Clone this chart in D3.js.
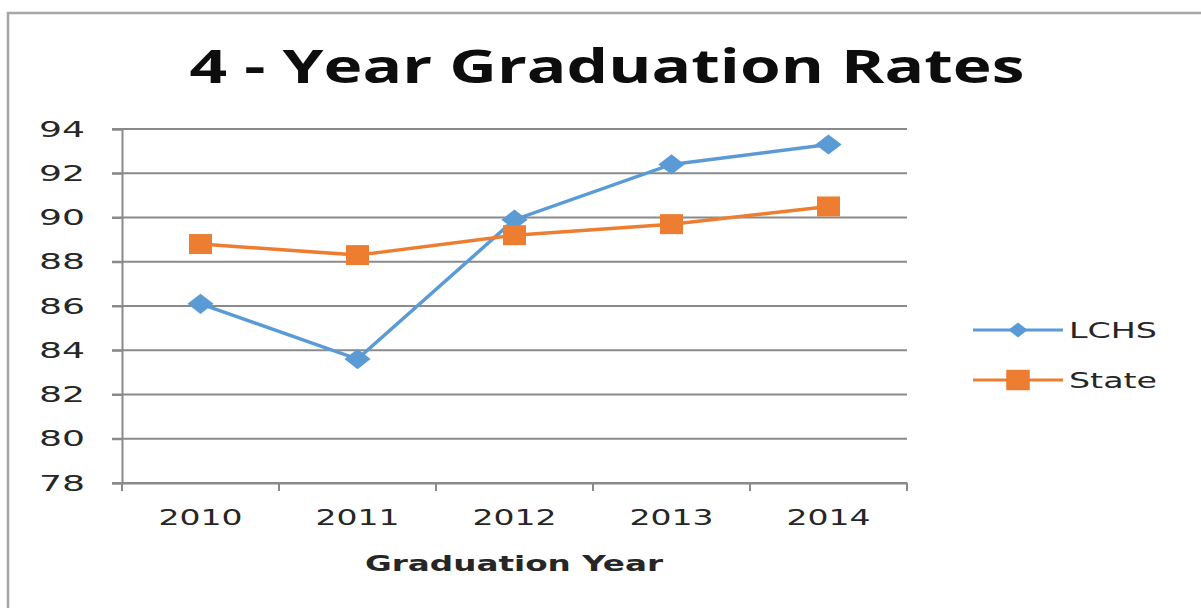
<!DOCTYPE html>
<html>
<head>
<meta charset="utf-8">
<script src="https://cdn.jsdelivr.net/npm/d3@7/dist/d3.min.js"></script>
<style>
body { margin: 0; background: #fff; }
svg { display: block; }
</style>
</head>
<body>
<div id="chart"></div>
<script>
var years = ["2010", "2011", "2012", "2013", "2014"];
var lchs = [86.1, 83.6, 89.9, 92.4, 93.3];
var state = [88.8, 88.3, 89.2, 89.7, 90.5];
var yTicks = [78, 80, 82, 84, 86, 88, 90, 92, 94];

var width = 1201, height = 608;
var plotLeft = 122, plotRight = 907, plotTop = 129, plotBottom = 483;

var svg = d3.select("#chart").append("svg").attr("width", width).attr("height", height);

// chart border
svg.append("rect")
    .attr("x", 8).attr("y", 13)
    .attr("width", 1220).attr("height", 640)
    .attr("fill", "#fff").attr("stroke", "#a6a6a6").attr("stroke-width", 2.5);

var x = d3.scaleBand().domain(years).range([plotLeft, plotRight]);
var y = d3.scaleLinear().domain([78, 94]).range([plotBottom, plotTop]);

// gridlines
svg.append("g").selectAll("line")
    .data(yTicks)
    .enter().append("line")
    .attr("x1", plotLeft - 10).attr("x2", plotRight)
    .attr("y1", function(d) { return y(d); })
    .attr("y2", function(d) { return y(d); })
    .attr("stroke", "#8a8a8a").attr("stroke-width", 2);

// y axis
var yAxis = svg.append("g")
    .attr("transform", "translate(" + plotLeft + ",0)")
    .call(d3.axisLeft(y).tickValues(yTicks).tickSize(10).tickPadding(27));
yAxis.select(".domain").attr("stroke", "#8a8a8a").attr("stroke-width", 2);
yAxis.selectAll(".tick line").attr("stroke", "#8a8a8a").attr("stroke-width", 2);
yAxis.selectAll("text")
    .attr("font-family", "DejaVu Sans").attr("font-size", 22).attr("fill", "#262626")
    .attr("textLength", 46).attr("lengthAdjust", "spacingAndGlyphs");

// x axis
var xAxis = svg.append("g")
    .attr("transform", "translate(0," + plotBottom + ")")
    .call(d3.axisBottom(x).tickSize(0).tickPadding(26));
xAxis.select(".domain").attr("stroke", "#8a8a8a").attr("stroke-width", 2);
xAxis.selectAll("text")
    .attr("font-family", "DejaVu Sans").attr("font-size", 22).attr("fill", "#262626")
    .attr("textLength", 84).attr("lengthAdjust", "spacingAndGlyphs");

// x ticks at band edges
var edges = years.map(function(d) { return x(d); }).concat([x(years[years.length - 1]) + x.bandwidth()]);
xAxis.selectAll("line.edge")
    .data(edges)
    .enter().append("line")
    .attr("class", "edge")
    .attr("x1", function(d) { return d; }).attr("x2", function(d) { return d; })
    .attr("y1", 0).attr("y2", 8)
    .attr("stroke", "#8a8a8a").attr("stroke-width", 2);

var cx = function(d, i) { return x(years[i]) + x.bandwidth() / 2; };

var line = d3.line()
    .x(function(d, i) { return x(years[i]) + x.bandwidth() / 2; })
    .y(function(d) { return y(d); });

var blue = "#5b9bd5", orange = "#ed7d31";

svg.append("path").datum(lchs)
    .attr("d", line).attr("fill", "none").attr("stroke", blue).attr("stroke-width", 3.5);
svg.append("path").datum(state)
    .attr("d", line).attr("fill", "none").attr("stroke", orange).attr("stroke-width", 3.5);

var diamond = d3.symbol().type(d3.symbolDiamond2).size(260);
var square = d3.symbol().type(d3.symbolSquare).size(400);

svg.selectAll("path.lchs")
    .data(lchs)
    .enter().append("path")
    .attr("class", "lchs")
    .attr("d", diamond)
    .attr("transform", function(d, i) { return "translate(" + cx(d, i) + "," + y(d) + ") scale(1.3,1)"; })
    .attr("fill", blue);

svg.selectAll("path.state")
    .data(state)
    .enter().append("path")
    .attr("class", "state")
    .attr("d", square)
    .attr("transform", function(d, i) { return "translate(" + cx(d, i) + "," + y(d) + ") scale(1.15,1)"; })
    .attr("fill", orange);

// title
svg.append("text")
    .attr("x", 607).attr("y", 83)
    .attr("text-anchor", "middle")
    .attr("font-family", "Open Sans").attr("font-weight", "bold").attr("font-size", 46)
    .attr("fill", "#0d0d0d")
    .attr("textLength", 835).attr("lengthAdjust", "spacingAndGlyphs")
    .text("4 - Year Graduation Rates");

// x axis title
svg.append("text")
    .attr("x", 514).attr("y", 571)
    .attr("text-anchor", "middle")
    .attr("font-family", "DejaVu Sans").attr("font-weight", "bold").attr("font-size", 22)
    .attr("fill", "#262626")
    .attr("textLength", 298).attr("lengthAdjust", "spacingAndGlyphs")
    .text("Graduation Year");

// legend
var legend = [{name: "LCHS", color: blue, sx: 1.3, y: 330},
              {name: "State", color: orange, sx: 1.15, y: 380}];
var lg = svg.selectAll("g.legend")
    .data(legend)
    .enter().append("g")
    .attr("class", "legend")
    .attr("transform", function(d) { return "translate(973," + d.y + ")"; });
lg.append("line")
    .attr("x1", 0).attr("x2", 90).attr("y1", 0).attr("y2", 0)
    .attr("stroke", function(d) { return d.color; }).attr("stroke-width", 3);
lg.append("path")
    .attr("d", function(d) { return d.name === "LCHS" ? d3.symbol().type(d3.symbolDiamond2).size(140)() : d3.symbol().type(d3.symbolSquare).size(420)(); })
    .attr("transform", function(d) { return "translate(45,0) scale(" + d.sx + ",1)"; })
    .attr("fill", function(d) { return d.color; });
lg.append("text")
    .attr("x", 96).attr("y", 8)
    .attr("font-family", "DejaVu Sans").attr("font-size", 22).attr("fill", "#262626")
    .attr("textLength", 88).attr("lengthAdjust", "spacingAndGlyphs")
    .text(function(d) { return d.name; });
</script>
</body>
</html>
